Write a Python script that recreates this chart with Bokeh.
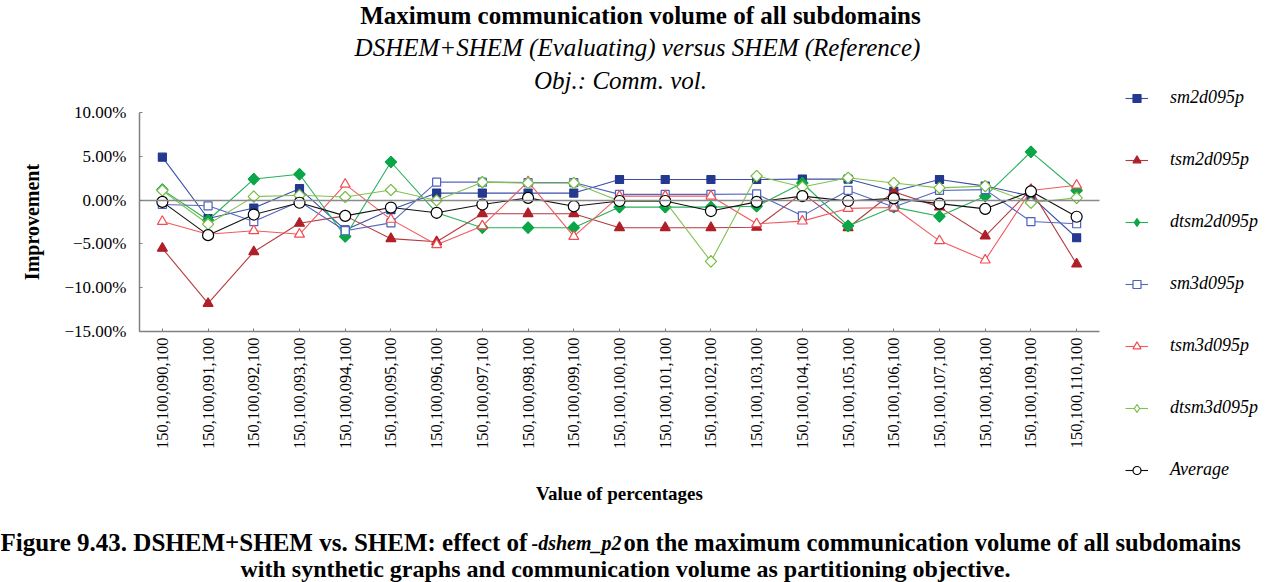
import math
from bokeh.plotting import figure
from bokeh.models import Range1d, FixedTicker, Label, Legend, LegendItem, LinearAxis
from bokeh.embed import file_html
from bokeh.resources import INLINE

# ---------------- data ----------------
categories = [
    "150,100,090,100", "150,100,091,100", "150,100,092,100", "150,100,093,100",
    "150,100,094,100", "150,100,095,100", "150,100,096,100", "150,100,097,100",
    "150,100,098,100", "150,100,099,100", "150,100,100,100", "150,100,101,100",
    "150,100,102,100", "150,100,103,100", "150,100,104,100", "150,100,105,100",
    "150,100,106,100", "150,100,107,100", "150,100,108,100", "150,100,109,100",
    "150,100,110,100",
]
sm2d095p = [4.9, -2.1, -0.9, 1.3, -3.4, -1.1, 0.8, 0.8, 0.8, 0.8, 2.35,
            2.35, 2.35, 2.35, 2.4, 2.4, 1.0, 2.35, 1.6, 0.45, -4.3]
tsm2d095p = [-5.5, -11.8, -5.9, -2.65, -1.8, -4.4, -4.75, -1.55, -1.55, -1.55, -3.15,
             -3.15, -3.15, -3.1, 0.8, -3.15, 0.95, -0.8, -4.1, 1.2, -7.3]
dtsm2d095p = [1.2, -2.3, 2.4, 2.95, -4.15, 4.35, -1.45, -3.15, -3.15, -3.15, -0.8,
              -0.8, -0.8, -0.7, 1.95, -2.95, -0.8, -1.85, 0.45, 5.5, 1.1]
sm3d095p = [-0.5, -0.65, -2.45, -0.15, -3.5, -2.6, 2.05, 2.05, 2.0, 2.0, 0.65,
            0.65, 0.65, 0.7, -1.8, 1.1, -0.8, 1.1, 1.2, -2.45, -2.7]
tsm3d095p = [-2.45, -3.9, -3.5, -3.9, 1.8, -2.2, -5.1, -2.95, 2.1, -4.15, 0.45,
             0.45, 0.45, -2.7, -2.4, -0.95, -0.85, -4.65, -6.85, 1.1, 1.7]
dtsm3d095p = [1.1, -2.75, 0.4, 0.55, 0.35, 1.15, -0.05, 2.05, 1.95, 1.95, -0.1,
              -0.15, -7.0, 2.75, 1.5, 2.55, 1.95, 1.4, 1.6, -0.3, 0.25]
average = [-0.2, -4.0, -1.65, -0.3, -1.8, -0.85, -1.45, -0.5, 0.25, -0.7, -0.1,
           -0.1, -1.25, -0.2, 0.45, -0.1, 0.2, -0.4, -1.0, 1.0, -1.9]

series_names = ["sm2d095p", "tsm2d095p", "dtsm2d095p", "sm3d095p", "tsm3d095p", "dtsm3d095p", "Average"]
series_values = [sm2d095p, tsm2d095p, dtsm2d095p, sm3d095p, tsm3d095p, dtsm3d095p, average]

y_ticks = [-15, -10, -5, 0, 5, 10]
y_tick_labels = ["\u221215.00%", "\u221210.00%", "\u22125.00%", "0.00%", "5.00%", "10.00%"]

title_lines = ["Maximum communication volume of all subdomains",
               "DSHEM+SHEM (Evaluating) versus SHEM (Reference)",
               "Obj.: Comm. vol."]
caption_parts = ["Figure 9.43. DSHEM+SHEM vs. SHEM: effect of ", "-dshem_p2",
                 " on the maximum communication volume of all subdomains"]
caption_line2 = "with synthetic graphs and communication volume as partitioning objective."

# ---------------- styles ----------------
# plot marker (may be rotated) + legend marker (unrotated shape shown in the legend)
styles = [
    dict(marker="square", size=8, angle=0, leg="square", line="#3a4fa6", stroke="#22398f", fill="#22398f"),
    dict(marker="triangle", size=10, angle=0, leg="triangle", line="#b53a40", stroke="#b01e28", fill="#b01e28"),
    dict(marker="square", size=8, angle=math.pi / 4, leg="diamond", line="#27b058", stroke="#0aa648", fill="#0aa648"),
    dict(marker="square", size=8, angle=0, leg="square", line="#5567c0", stroke="#4c60bd", fill="white"),
    dict(marker="triangle", size=10, angle=0, leg="triangle", line="#f05a5e", stroke="#f04c52", fill="white"),
    dict(marker="square", size=8, angle=math.pi / 4, leg="diamond", line="#80c250", stroke="#77bd45", fill="white"),
    dict(marker="circle", size=11, angle=0, leg="circle", line="#111111", stroke="#000000", fill="white"),
]

SERIF = "Liberation Serif"
W, H = 1276, 582
# plot box (where the value axes sit), in canvas pixels
BOX_L, BOX_R, BOX_T, BOX_B = 139, 1099, 112, 331
Y_MIN, Y_MAX = -15, 10

n = len(categories)
x_idx = list(range(n))
X_LO, X_HI = -0.5, n - 0.5
PX_X = (BOX_R - BOX_L) / (X_HI - X_LO)
PX_Y = (BOX_B - BOX_T) / (Y_MAX - Y_MIN)

x_range = Range1d(X_LO - BOX_L / PX_X, X_HI + (W - BOX_R) / PX_X)
y_range = Range1d(Y_MIN - (H - BOX_B) / PX_Y, Y_MAX + BOX_T / PX_Y)


def dx(fx):
    return x_range.start + fx / PX_X


def dy(fy):
    return y_range.end - fy / PX_Y


p = figure(width=W, height=H, x_range=x_range, y_range=y_range,
           output_backend="svg", toolbar_location=None, min_border=0)
p.xgrid.visible = False
p.ygrid.visible = False
p.outline_line_color = None
p.background_fill_color = "white"
p.border_fill_color = "white"

xax = p.xaxis[0]
yax = p.yaxis[0]
xax.fixed_location = Y_MIN
xax.bounds = (X_LO, X_HI)
yax.fixed_location = X_LO
yax.bounds = (Y_MIN, Y_MAX)

for ax in (xax, yax):
    ax.axis_line_color = "#808080"
    ax.axis_line_width = 1.5
    ax.major_tick_line_color = "#808080"
    ax.major_tick_in = 3
    ax.major_tick_out = 0
    ax.minor_tick_line_color = None
    ax.major_label_text_font = SERIF
    ax.major_label_text_color = "#000000"
    ax.axis_label_text_font = SERIF
    ax.axis_label_text_font_style = "bold"
    ax.axis_label_text_color = "#000000"

yax.ticker = FixedTicker(ticks=y_ticks)
yax.major_label_overrides = {t: l for t, l in zip(y_ticks, y_tick_labels)}
yax.major_label_text_font_size = "17px"
yax.major_label_standoff = 13
yax.axis_label = "Improvement"
yax.axis_label_text_font_size = "20px"
yax.axis_label_standoff = 19

xax.ticker = FixedTicker(ticks=x_idx)
xax.major_label_overrides = {i: c for i, c in zip(x_idx, categories)}
xax.major_label_orientation = math.pi / 2
xax.major_label_text_font_size = "16.5px"
xax.major_label_standoff = 6
xax.axis_label = "Value of percentages"
xax.axis_label_text_font_size = "19px"
xax.axis_label_standoff = 31

# horizontal axis line at zero
zero_axis = LinearAxis(fixed_location=0, bounds=(X_LO, X_HI), ticker=FixedTicker(ticks=[]),
                       axis_line_color="#8a8a8a", axis_line_width=1.5,
                       major_tick_line_color=None, minor_tick_line_color=None)
p.add_layout(zero_axis, "below")

items = []
for name, vals, st in zip(series_names, series_values, styles):
    lr = p.line(x_idx, vals, line_color=st["line"], line_width=1.1)
    common = dict(line_color=st["stroke"], line_width=1.2, fill_color=st["fill"])
    if st["leg"] != st["marker"]:
        # unrotated diamond, drawn underneath the rotated marker; shown in the legend
        leg_r = p.scatter(x_idx, vals, marker=st["leg"], size=11, **common)
    else:
        leg_r = None
    sr = p.scatter(x_idx, vals, marker=st["marker"], size=st["size"], angle=st["angle"], **common)
    items.append(LegendItem(label=name, renderers=[lr, leg_r if leg_r is not None else sr]))

legend = Legend(items=items, location=(1125, H - 480),
                padding=0, margin=0, spacing=41, glyph_width=23, glyph_height=20,
                label_height=20, label_standoff=22, border_line_color=None,
                background_fill_alpha=0.0,
                label_text_font=SERIF, label_text_font_style="italic",
                label_text_font_size="18px", label_text_color="#000000")
p.add_layout(legend)


def add_text(fx, fy, text, style, size, align):
    p.add_layout(Label(x=dx(fx), y=dy(fy), text=text, text_font=SERIF,
                       text_font_style=style, text_font_size=size, text_align=align,
                       text_baseline="alphabetic", text_color="#000000"))


# titles
add_text(640, 15, title_lines[0], "bold", "25px", "center")
add_text(637, 47, title_lines[1], "italic", "25px", "center")
add_text(620, 80, title_lines[2], "italic", "25px", "center")

# caption
add_text(0, 542, caption_parts[0], "bold", "25px", "left")
add_text(531, 542, caption_parts[1], "bold italic", "20px", "left")
add_text(623, 542, caption_parts[2], "bold", "24.5px", "left")
add_text(625, 568, caption_line2, "bold", "24px", "center")

open("out.html", "w").write(file_html(p, INLINE))
